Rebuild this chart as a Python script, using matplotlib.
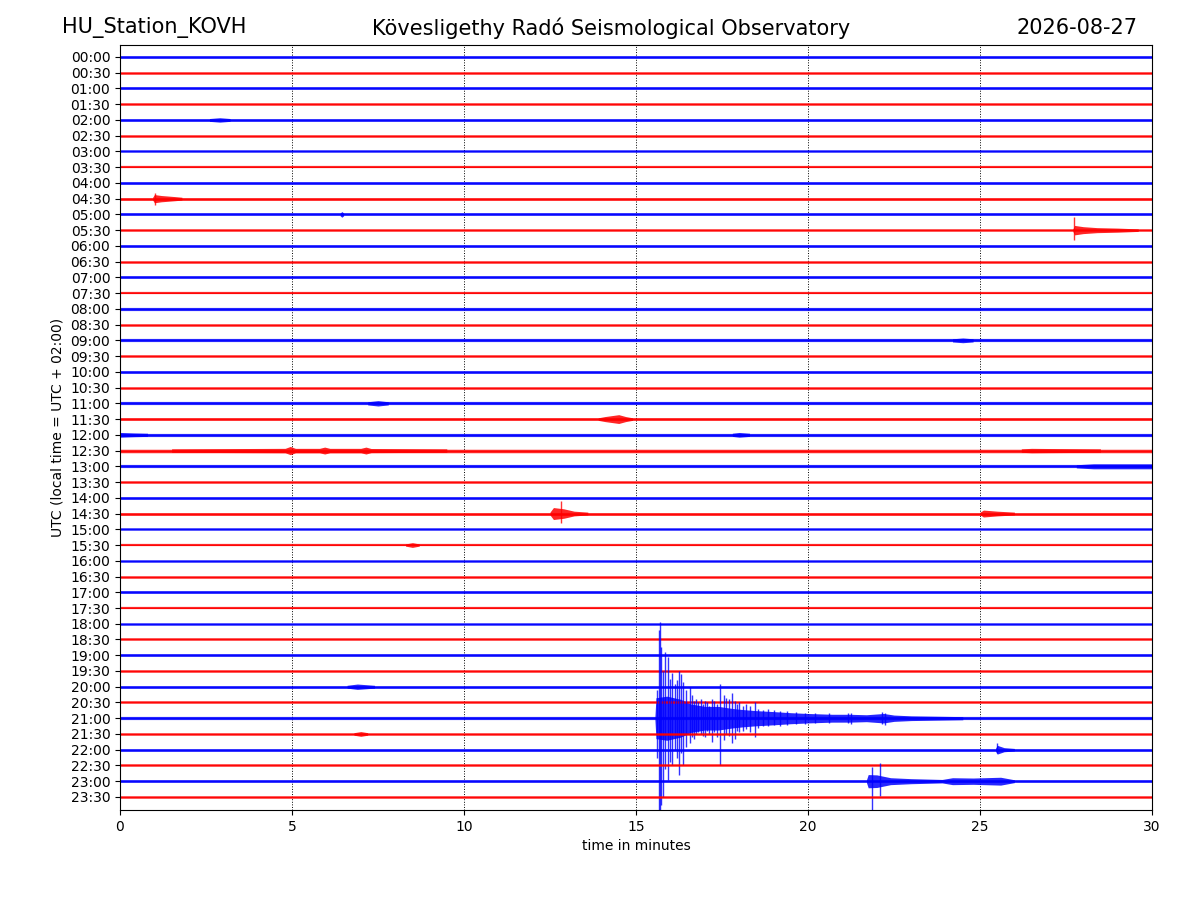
import matplotlib
matplotlib.use('Agg')
import matplotlib.pyplot as plt

# one trace every 30 minutes, 30 minutes long
hours = ['%02d:%02d' % (h, m) for h in range(24) for m in (0, 30)]
trace_colors = ['blue', 'red']

# background noise half-amplitude of each trace (in trace spacings)
noise = [0.09, 0.08, 0.09, 0.08, 0.09, 0.08, 0.08, 0.07, 0.09, 0.09,
         0.09, 0.08, 0.09, 0.08, 0.09, 0.07, 0.10, 0.08, 0.10, 0.08,
         0.09, 0.08, 0.10, 0.09, 0.10, 0.11, 0.10, 0.08, 0.09, 0.09,
         0.08, 0.07, 0.08, 0.08, 0.09, 0.07, 0.08, 0.08, 0.09, 0.08,
         0.09, 0.08, 0.10, 0.08, 0.09, 0.08, 0.09, 0.08]

# signal envelopes: trace index, times (min), half-amplitudes
ev_trace = [9, 11, 23, 29, 29, 25, 25, 24, 24, 26, 40, 43, 22, 31,
            4, 18, 10, 42, 44, 46]
ev_t = [
    [0.95, 1.0, 1.2, 1.6, 1.8],
    [27.7, 27.75, 28.0, 28.4, 29.0, 29.6],
    [13.9, 14.1, 14.5, 14.7, 14.9],
    [12.5, 12.6, 12.9, 13.2, 13.6],
    [25.0, 25.1, 25.5, 26.0],
    [1.5, 4.8, 4.95, 5.1, 5.8, 5.95, 6.1, 7.0, 7.15, 7.3, 9.5],
    [26.2, 26.5, 27.0, 28.5],
    [0.0, 0.4, 0.8],
    [17.8, 18.0, 18.3],
    [27.8, 28.3, 30.0],
    [6.6, 6.9, 7.4],
    [6.8, 7.0, 7.2],
    [7.2, 7.5, 7.8],
    [8.3, 8.5, 8.7],
    [2.6, 2.9, 3.2],
    [24.2, 24.5, 24.8],
    [6.4, 6.45, 6.5],
    [15.55, 15.58, 15.9, 16.3, 16.6, 17.0, 17.4, 17.8, 18.1, 18.5, 19.0,
     19.5, 20.0, 20.7, 21.2, 21.7, 22.2, 22.5, 23.0, 23.6, 24.5],
    [25.45, 25.5, 25.7, 26.0],
    [21.7, 21.75, 22.0, 22.4, 23.0, 23.9, 24.2, 24.8, 25.6, 26.0],
]
ev_amp = [
    [0.09, 0.26, 0.20, 0.13, 0.09],
    [0.08, 0.30, 0.22, 0.16, 0.13, 0.08],
    [0.08, 0.16, 0.28, 0.16, 0.08],
    [0.09, 0.38, 0.30, 0.15, 0.09],
    [0.09, 0.22, 0.15, 0.09],
    [0.11, 0.14, 0.26, 0.14, 0.14, 0.22, 0.14, 0.14, 0.22, 0.13, 0.11],
    [0.11, 0.14, 0.13, 0.11],
    [0.15, 0.12, 0.10],
    [0.10, 0.15, 0.10],
    [0.10, 0.16, 0.16],
    [0.09, 0.17, 0.09],
    [0.08, 0.15, 0.08],
    [0.10, 0.17, 0.10],
    [0.07, 0.15, 0.07],
    [0.09, 0.14, 0.09],
    [0.10, 0.15, 0.10],
    [0.09, 0.18, 0.09],
    [0.10, 1.30, 1.40, 1.20, 0.90, 0.75, 0.75, 0.62, 0.55, 0.48, 0.42,
     0.35, 0.30, 0.25, 0.25, 0.22, 0.30, 0.20, 0.15, 0.13, 0.10],
    [0.08, 0.28, 0.13, 0.08],
    [0.09, 0.42, 0.40, 0.22, 0.16, 0.11, 0.22, 0.20, 0.25, 0.09],
]

# large single swings: trace index, time (min), peak up, peak down
sp_trace = [42] * 54 + [46, 46, 11, 29, 9, 44]
sp_t = [15.60, 15.66, 15.70, 15.74, 15.78, 15.84, 15.93, 16.00, 16.05,
        16.12, 16.20, 16.25, 16.32, 16.37, 16.45, 16.57, 16.75, 17.00,
        17.20, 17.44, 17.55, 17.80, 18.00, 18.46,
        16.62, 16.70, 16.80, 16.88, 16.95, 17.05, 17.12, 17.28, 17.35,
        17.62, 17.70, 17.88, 17.95, 18.10, 18.20, 18.30, 18.55, 18.70,
        18.85, 19.00, 19.20, 19.40, 19.65, 19.90, 20.20, 20.60, 21.15,
        21.25, 22.15, 22.25,
        21.85, 22.10, 27.73, 12.82, 1.02, 25.50]
sp_up = [1.8, 5.6, 6.1, 4.5, 3.0, 4.2, 3.9, 2.5, 2.9, 2.2, 2.4, 3.0, 2.8,
         2.3, 1.8, 2.0, 1.2, 1.1, 1.2, 2.2, 1.5, 1.6, 1.0, 1.0,
         1.5, 1.1, 1.0, 1.2, 0.9, 1.0, 0.8, 1.1, 0.9, 1.3, 1.2, 1.1, 0.9,
         0.8, 0.9, 0.8, 0.6, 0.55, 0.6, 0.5, 0.45, 0.45, 0.4, 0.35, 0.35,
         0.3, 0.35, 0.3, 0.4, 0.35,
         0.9, 1.15, 0.85, 0.8, 0.35, 0.4]
sp_down = [2.5, 6.5, 6.5, 5.5, 5.0, 3.2, 3.9, 2.8, 3.0, 2.0, 2.5, 3.6, 2.2,
           3.0, 1.8, 1.6, 1.0, 1.2, 1.5, 3.0, 1.4, 1.6, 0.9, 1.2,
           1.2, 1.3, 0.9, 1.0, 1.1, 0.8, 1.0, 0.9, 1.2, 1.0, 1.1, 1.3, 0.8,
           0.8, 0.7, 0.9, 0.6, 0.5, 0.5, 0.45, 0.5, 0.4, 0.35, 0.35, 0.3,
           0.3, 0.3, 0.35, 0.35, 0.4,
           1.9, 0.95, 0.6, 0.6, 0.4, 0.2]

fig = plt.figure(figsize=(12, 9), dpi=100)
ax = fig.add_axes([0.1, 0.1, 0.86, 0.85])

# trace spacing in points, to turn noise amplitude into a line width
spacing_pt = 15.745 * 72 / 100

for i in range(len(hours)):
    c = trace_colors[i % 2]
    ax.plot([0, 30], [i, i], color=c, lw=2 * noise[i] * spacing_pt,
            alpha=0.85, solid_capstyle='butt')
    ax.plot([0, 30], [i, i], color=c, lw=0.6)
    for k, tr in enumerate(ev_trace):
        if tr != i:
            continue
        lo = [i - a for a in ev_amp[k]]
        hi = [i + a for a in ev_amp[k]]
        ax.fill_between(ev_t[k], lo, hi, color=c, lw=0, alpha=0.85)
    for k, tr in enumerate(sp_trace):
        if tr != i:
            continue
        ax.vlines(sp_t[k], i - sp_up[k], i + sp_down[k], color=c, lw=1.0, alpha=0.8)

ax.set_xlim(0, 30)
ax.set_ylim(47.83, -0.76)
ax.set_xticks(range(0, 31, 5))
ax.set_yticks(range(len(hours)))
ax.set_yticklabels(hours)
ax.grid(axis='x', color='black', linestyle=':', lw=0.7)
ax.set_axisbelow(True)
ax.set_xlabel('time in minutes')
ax.set_ylabel('UTC (local time = UTC + 02:00)')

fig.text(0.052, 0.969, 'HU_Station_KOVH', fontsize=15, ha='left', va='center')
fig.text(0.5095, 0.969, 'Kövesligethy Radó Seismological Observatory',
         fontsize=15, ha='center', va='center')
fig.text(0.9475, 0.969, '2026-08-27', fontsize=15, ha='right', va='center')

fig.savefig('out.png')
